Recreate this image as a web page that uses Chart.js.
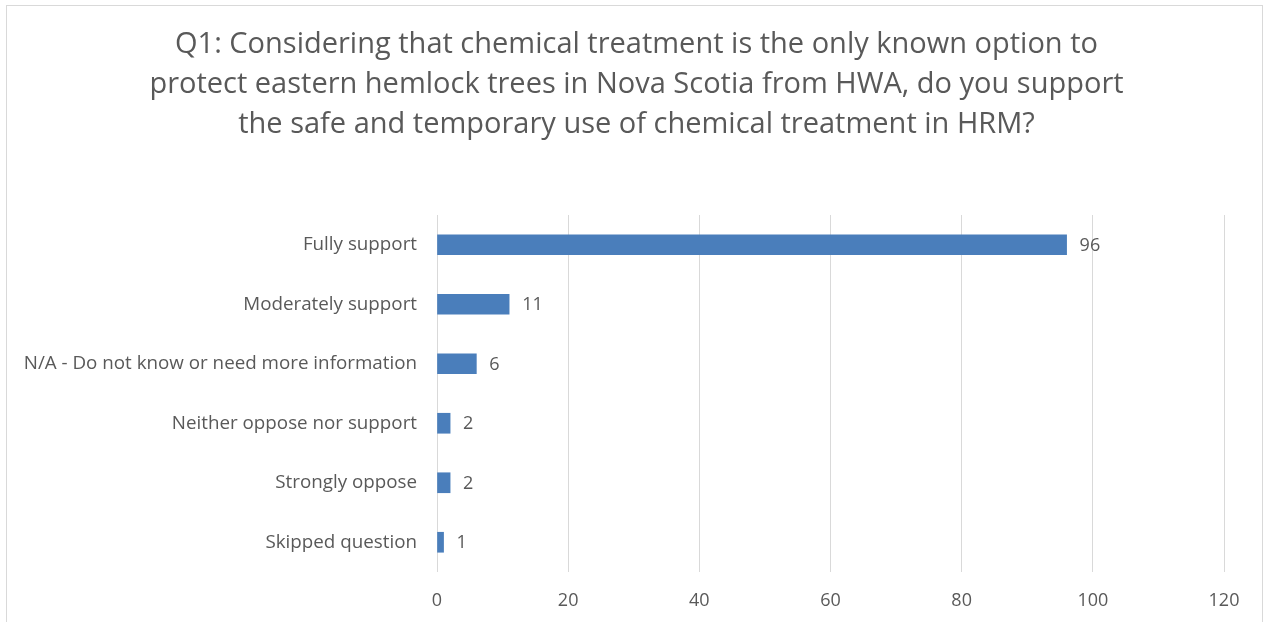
<!DOCTYPE html>
<html>
<head>
<meta charset="utf-8">
<script src="https://cdn.jsdelivr.net/npm/chart.js@4"></script>
<style>
  html, body { margin: 0; padding: 0; background: #fff; }
  #wrap { position: relative; width: 1265px; height: 622px; }
  #frame { position: absolute; left: 6px; top: 5px; width: 1255px; height: 640px; border: 1px solid #d9d9d9; pointer-events: none; }
  canvas { position: absolute; left: 0; top: 0; }
</style>
</head>
<body>
<div id="wrap">
  <canvas id="c" width="1265" height="622"></canvas>
  <div id="frame"></div>
</div>
<script>
const titleLines = [
  "Q1: Considering that chemical treatment is the only known option to",
  "protect eastern hemlock trees in Nova Scotia from HWA, do you support",
  "the safe and temporary use of chemical treatment in HRM?"
];
const categories = [
  "Fully support",
  "Moderately support",
  "N/A - Do not know or need more information",
  "Neither oppose nor support",
  "Strongly oppose",
  "Skipped question"
];
const values = [96, 11, 6, 2, 2, 1];
const xTicks = [0, 20, 40, 60, 80, 100, 120];

const FONT = "'Open Sans', Lato, sans-serif";
const TEXT = "#595959";

const valueLabels = {
  id: 'valueLabels',
  afterDatasetsDraw(chart) {
    const ctx = chart.ctx;
    const meta = chart.getDatasetMeta(0);
    ctx.save();
    ctx.font = "18px " + FONT;
    ctx.fillStyle = TEXT;
    ctx.textAlign = 'left';
    ctx.textBaseline = 'middle';
    meta.data.forEach((bar, i) => {
      ctx.fillText(String(values[i]), bar.x + 13, bar.y + 1);
    });
    ctx.restore();
  }
};

// center the title over the framed picture rather than the padded layout box
const titleCenter = {
  id: 'titleCenter',
  afterLayout(chart) {
    const t = chart.titleBlock;
    if (t) { t.left = 8; t.right = chart.width; t.width = t.right - t.left; }
  }
};

new Chart(document.getElementById('c'), {
  type: 'bar',
  data: {
    labels: categories,
    datasets: [{
      data: values,
      backgroundColor: '#4a7ebb',
      borderWidth: 0,
      barThickness: 20
    }]
  },
  options: {
    indexAxis: 'y',
    responsive: false,
    animation: false,
    layout: { padding: { left: 10, right: 41, top: 0, bottom: 0 } },
    plugins: {
      legend: { display: false },
      tooltip: { enabled: false },
      title: {
        display: true,
        text: titleLines,
        color: TEXT,
        font: { family: FONT, size: 29, weight: 'normal', lineHeight: 40 / 29 },
        padding: { top: 25, bottom: 70 }
      }
    },
    scales: {
      x: {
        min: 0, max: 120,
        afterBuildTicks(scale) { scale.ticks = xTicks.map(v => ({ value: v })); },
        afterFit(scale) { scale.height = 50; },
        grid: { color: '#d9d9d9', drawTicks: false, lineWidth: 1 },
        border: { display: false },
        ticks: { color: TEXT, font: { family: FONT, size: 18 }, padding: 18 }
      },
      y: {
        afterFit(scale) { scale.width = 437 - 10; },
        grid: { display: false, drawTicks: false },
        border: { display: false },
        ticks: { color: TEXT, font: { family: FONT, size: 18.8 }, padding: 20 }
      }
    }
  },
  plugins: [valueLabels, titleCenter]
});
</script>
</body>
</html>
